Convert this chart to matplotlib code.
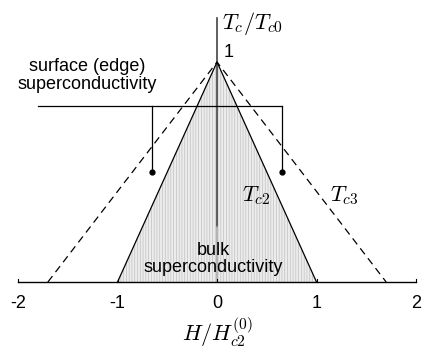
import matplotlib.pyplot as plt
import numpy as np

plt.rcParams['mathtext.fontset'] = 'cm'
plt.rcParams['hatch.linewidth'] = 0.5

# reduced field H/Hc2(0) vs reduced temperature Tc/Tc0
h_tc2 = [-1.0, 0.0, 1.0]
t_tc2 = [0.0, 1.0, 0.0]
h_tc3 = [-1.7, 0.0, 1.7]
t_tc3 = [0.0, 1.0, 0.0]
xticks = [-2, -1, 0, 1, 2]
xticklabels = ['-2', '-1', '0', '1', '2']
# bracket marking the surface-superconductivity band
bracket_h = [-0.65, 0.655]
bracket_top = 0.8
bracket_dot = 0.5

fig = plt.figure(figsize=(4.22, 3.5), dpi=100)
ax = fig.add_axes([0, 0, 1, 1])
ax.set_xlim(-2.181, 2.06)
ax.set_ylim(-0.309, 1.282)
ax.axis('off')

# bulk region
ax.fill(h_tc2, t_tc2, facecolor='#ececec', edgecolor='#c0c0c0', lw=0, hatch='||||||', zorder=1)
ax.plot(h_tc2, t_tc2, color='black', lw=0.9, zorder=3)
ax.plot(h_tc3, t_tc3, color='black', lw=0.9, ls=(0, (6, 4)), zorder=3)

# axes
ax.plot([-2, 2], [0, 0], color='black', lw=1.0, zorder=4)
for x, lab in zip(xticks, xticklabels):
    ax.plot([x, x], [0, 0.015], color='black', lw=0.8, zorder=4)
    ax.text(x, -0.06, lab, ha='center', va='top', fontsize=13, family='Liberation Sans')
ax.plot([0, 0], [0.25, 1.2], color='#444444', lw=1.2, zorder=2)
ax.plot([0, 0], [0, 0.25], color='#aaaaaa', lw=1.2, zorder=2)

# bracket
ax.plot([-1.8, bracket_h[1]], [bracket_top, bracket_top], color='black', lw=0.9, zorder=4)
for h in bracket_h:
    ax.plot([h, h], [bracket_top, bracket_dot], color='black', lw=0.9, zorder=4)
    ax.plot(h, bracket_dot, 'o', color='black', ms=3.5, zorder=5)

ax.text(0.05, 1.175, r'$T_c/T_{c0}$', fontsize=16, ha='left', va='center')
ax.text(0.07, 1.045, '1', fontsize=13, ha='left', va='center', family='Liberation Sans')
ax.text(-1.30, 0.94, 'surface (edge)\nsuperconductivity', fontsize=13, ha='center', va='center',
        family='Liberation Sans', linespacing=1.05)
ax.text(0.25, 0.395, r'$T_{c2}$', fontsize=16, ha='left', va='center')
ax.text(1.14, 0.395, r'$T_{c3}$', fontsize=16, ha='left', va='center')
ax.text(-0.04, 0.105, 'bulk\nsuperconductivity', fontsize=13, ha='center', va='center',
        family='Liberation Sans', linespacing=1.05, zorder=6)
ax.text(0.0, -0.228, r'$H/H_{c2}^{(0)}$', fontsize=16, ha='center', va='center')

fig.savefig('out.png', dpi=100)
